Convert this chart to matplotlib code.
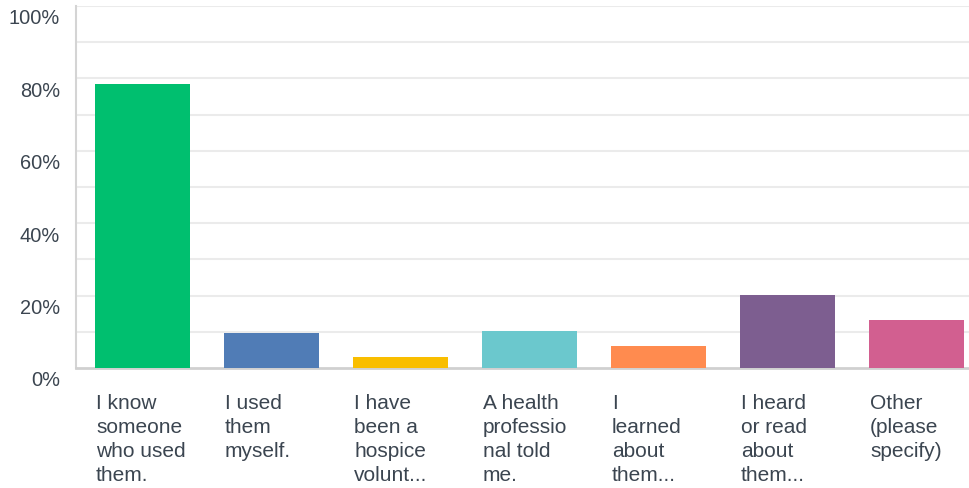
import numpy as np
import matplotlib
matplotlib.use("Agg")
from matplotlib import pyplot as plt
from matplotlib import transforms

# answer choices (as truncated/wrapped in the original) and share of respondents (%)
labels = ["I know\nsomeone\nwho used\nthem.",
          "I used\nthem\nmyself.",
          "I have\nbeen a\nhospice\nvolunt...",
          "A health\nprofessio\nnal told\nme.",
          "I\nlearned\nabout\nthem...",
          "I heard\nor read\nabout\nthem...",
          "Other\n(please\nspecify)"]
values = [78.4, 9.7, 3.0, 10.2, 6.1, 20.2, 13.3]
colors = ["#00bf6f", "#507cb6", "#f9be00", "#6bc8cd", "#ff8b4f", "#7d5e90", "#d25f90"]
yticks = [0, 20, 40, 60, 80, 100]
ytick_labels = ["0%", "20%", "40%", "60%", "80%", "100%"]

plt.rcParams['font.family'] = ['Liberation Sans', 'DejaVu Sans']
text_color = "#3b4550"

fig = plt.figure(figsize=(9.69, 4.89), dpi=100)
ax = fig.add_axes([76/969, 120/489, 893/969, 362/489])

x = np.arange(len(values))
bar_w = 0.736
ax.bar(x, values, width=bar_w, color=colors, zorder=3)

ax.set_xlim(-0.5155, 6.407)
ax.set_ylim(0, 100)

# light gridlines every 10%
for g in range(10, 101, 10):
    ax.axhline(g, color="#ebebeb", lw=1.5, zorder=1)

ax.set_yticks(yticks)
ax.set_yticklabels(ytick_labels, fontsize=14.4, color=text_color)
ax.tick_params(axis='y', length=0, pad=11.5)
offset = transforms.ScaledTranslation(0, -10/100, fig.dpi_scale_trans)
for lab in ax.get_yticklabels():
    lab.set_transform(lab.get_transform() + offset)

ax.set_xticks([])
for s in ["top", "right"]:
    ax.spines[s].set_visible(False)
ax.spines["left"].set_color("#d4d4d4")
ax.spines["left"].set_linewidth(1.5)
ax.spines["bottom"].set_color("#d0d0d0")
ax.spines["bottom"].set_linewidth(2)

# wrapped category labels, left aligned under each bar
for i, lab in enumerate(labels):
    ax.text(i - bar_w/2 + 0.008, -0.070, lab, transform=ax.get_xaxis_transform(),
            ha='left', va='top', fontsize=15, color=text_color, linespacing=1.33)

fig.savefig("out.png", dpi=100)
